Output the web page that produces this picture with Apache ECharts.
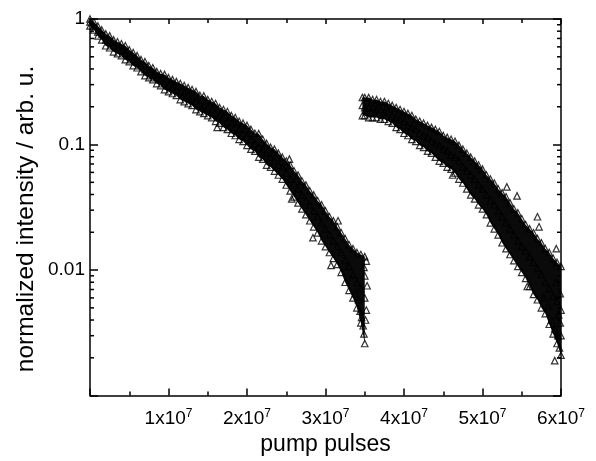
<!DOCTYPE html>
<html>
<head>
<meta charset="utf-8">
<script src="https://cdn.jsdelivr.net/npm/echarts@6/dist/echarts.min.js"></script>
<style>
html, body { margin: 0; padding: 0; background: #fff; }
#main { width: 596px; height: 461px; }
</style>
</head>
<body>
<div id="main"></div>
<script>
// pump pulses in units of 1e7, intensity normalized
// first run: upper edge, middle and lower edge of the point cloud
var seg1X = [0, 0.05, 0.1, 0.15, 0.2, 0.25, 0.3, 0.35, 0.4, 0.45, 0.5, 0.55, 0.6, 0.65, 0.7, 0.75, 0.8, 0.85, 0.9, 0.95,
  1, 1.05, 1.1, 1.15, 1.2, 1.25, 1.3, 1.35, 1.4, 1.45, 1.5, 1.55, 1.6, 1.65, 1.7, 1.75, 1.8, 1.85, 1.9, 1.95,
  2, 2.05, 2.1, 2.15, 2.2, 2.25, 2.3, 2.35, 2.4, 2.45, 2.5, 2.55, 2.6, 2.65, 2.7, 2.75, 2.8, 2.85, 2.9, 2.95,
  3, 3.05, 3.1, 3.15, 3.2, 3.25, 3.3, 3.35, 3.4, 3.45, 3.5];
var seg1Hi = [1.0, 0.947, 0.88, 0.818, 0.761, 0.734, 0.682, 0.658, 0.634, 0.612, 0.568, 0.54, 0.51, 0.474, 0.457, 0.425, 0.409, 0.381, 0.367, 0.362,
  0.341, 0.329, 0.317, 0.306, 0.295, 0.284, 0.274, 0.264, 0.246, 0.244, 0.228, 0.22, 0.212, 0.197, 0.19, 0.183, 0.17, 0.164, 0.153, 0.148,
  0.142, 0.132, 0.123, 0.122, 0.11, 0.102, 0.095, 0.0918, 0.0853, 0.0793, 0.0738, 0.0686, 0.0615, 0.0572, 0.0512, 0.0476, 0.0427, 0.0397, 0.0356, 0.0331,
  0.0296, 0.0266, 0.0247, 0.0221, 0.0198, 0.0178, 0.0159, 0.0148, 0.0138, 0.0133, 0.0128];
var seg1Mid = [0.947, 0.88, 0.789, 0.761, 0.682, 0.658, 0.612, 0.59, 0.568, 0.529, 0.51, 0.474, 0.457, 0.425, 0.395, 0.381, 0.354, 0.341, 0.329, 0.306,
  0.295, 0.284, 0.274, 0.264, 0.255, 0.246, 0.237, 0.22, 0.212, 0.205, 0.197, 0.19, 0.177, 0.17, 0.164, 0.153, 0.148, 0.137, 0.132, 0.123,
  0.118, 0.11, 0.102, 0.095, 0.0918, 0.0853, 0.0793, 0.0738, 0.0686, 0.0661, 0.0593, 0.0531, 0.0494, 0.0443, 0.0397, 0.0356, 0.0331, 0.0296, 0.0266, 0.0238,
  0.0213, 0.0191, 0.0171, 0.0154, 0.0138, 0.0119, 0.0107, 0.0092, 0.008, 0.0071, 0.006];
var seg1Lo = [0.88, 0.818, 0.734, 0.682, 0.612, 0.59, 0.548, 0.529, 0.51, 0.474, 0.457, 0.425, 0.409, 0.381, 0.354, 0.341, 0.329, 0.306, 0.295, 0.274,
  0.264, 0.255, 0.246, 0.228, 0.22, 0.212, 0.205, 0.19, 0.183, 0.177, 0.17, 0.164, 0.153, 0.148, 0.137, 0.132, 0.123, 0.118, 0.11, 0.106,
  0.0985, 0.0918, 0.0885, 0.0793, 0.0765, 0.0686, 0.0661, 0.0615, 0.0572, 0.0531, 0.0476, 0.0427, 0.0383, 0.0343, 0.0307, 0.0276, 0.0247, 0.0221, 0.0198, 0.0171,
  0.0154, 0.0138, 0.0124, 0.0111, 0.0096, 0.008, 0.0069, 0.006, 0.005, 0.0038, 0.0026];

// second run, after the pause
var seg2X = [3.47, 3.5, 3.55, 3.6, 3.65, 3.7, 3.75, 3.8, 3.85, 3.9, 3.95, 4, 4.05, 4.1, 4.15, 4.2, 4.25, 4.3, 4.35, 4.4,
  4.45, 4.5, 4.55, 4.6, 4.65, 4.7, 4.75, 4.8, 4.85, 4.9, 4.95, 5, 5.05, 5.1, 5.15, 5.2, 5.25, 5.3, 5.35, 5.4,
  5.45, 5.5, 5.55, 5.6, 5.65, 5.7, 5.75, 5.8, 5.85, 5.9, 5.95, 6];
var seg2Hi = [0.237, 0.237, 0.237, 0.228, 0.228, 0.22, 0.22, 0.212, 0.205, 0.197, 0.19, 0.183, 0.177, 0.17, 0.159, 0.153, 0.148, 0.142, 0.137, 0.132,
  0.127, 0.118, 0.114, 0.11, 0.106, 0.0985, 0.0918, 0.0853, 0.0793, 0.0738, 0.0686, 0.0637, 0.0572, 0.0531, 0.0494, 0.0443, 0.0412, 0.0383, 0.0343, 0.0307,
  0.0286, 0.0256, 0.023, 0.0213, 0.0198, 0.0178, 0.0165, 0.0148, 0.0138, 0.0124, 0.0115, 0.0107];
var seg2Mid = [0.205, 0.197, 0.197, 0.197, 0.19, 0.19, 0.183, 0.183, 0.17, 0.164, 0.159, 0.153, 0.142, 0.137, 0.132, 0.123, 0.118, 0.114, 0.106, 0.102,
  0.0985, 0.0918, 0.0885, 0.0823, 0.0793, 0.0738, 0.0661, 0.0615, 0.0572, 0.0531, 0.0476, 0.0443, 0.0397, 0.0356, 0.0331, 0.0296, 0.0266, 0.0238, 0.0213, 0.0191,
  0.0171, 0.0154, 0.0143, 0.0128, 0.0115, 0.0103, 0.0092, 0.008, 0.0071, 0.0062, 0.0056, 0.0048];
var seg2Lo = [0.17, 0.17, 0.164, 0.164, 0.164, 0.159, 0.159, 0.153, 0.148, 0.137, 0.132, 0.123, 0.118, 0.11, 0.106, 0.0985, 0.095, 0.0885, 0.0853, 0.0793,
  0.0738, 0.0711, 0.0661, 0.0637, 0.0593, 0.0531, 0.0494, 0.0443, 0.0397, 0.0369, 0.0331, 0.0307, 0.0276, 0.0238, 0.0213, 0.0191, 0.0165, 0.0148, 0.0133, 0.0119,
  0.0107, 0.0096, 0.0086, 0.0074, 0.0064, 0.0058, 0.005, 0.0045, 0.0037, 0.0031, 0.0026, 0.0021];

// stray points outside the band and in the noisy tails [x, y]
var strayPoints = [[1.62, 0.137], [2.54, 0.0765], [2.57, 0.0369], [2.84, 0.0181], [3.07, 0.0109], [3.16, 0.0247],
  [3.38, 0.0065], [3.42, 0.0058], [3.44, 0.0047], [3.46, 0.0042], [3.48, 0.0036], [3.49, 0.0031], [3.51, 0.004],
  [3.52, 0.0048], [3.5, 0.009], [3.53, 0.0075], [3.49, 0.0105], [3.52, 0.0118],
  [4.62, 0.0572], [5.31, 0.046], [5.44, 0.039], [5.7, 0.0266], [5.72, 0.0221], [5.94, 0.0148], [5.57, 0.0074],
  [5.92, 0.0019], [5.88, 0.004], [5.92, 0.0034], [5.96, 0.003], [5.98, 0.0024], [6, 0.003], [5.99, 0.0038],
  [5.97, 0.0044], [5.84, 0.0052], [5.78, 0.006], [5.94, 0.008], [5.99, 0.0065]];

var xTickMantissa = [1, 2, 3, 4, 5, 6];
var yTickExp = [0, -1, -2];
var yTickText = ['1', '0.1', '0.01'];
var yMinorTicks = [0.002, 0.003, 0.004, 0.005, 0.006, 0.007, 0.008, 0.009,
  0.02, 0.03, 0.04, 0.05, 0.06, 0.07, 0.08, 0.09,
  0.2, 0.3, 0.4, 0.5, 0.6, 0.7, 0.8, 0.9];

var font = "'Liberation Sans', Arial, sans-serif";
var axisColor = '#000';

function rows(xs, list) {
  var out = [];
  list.forEach(function (ys) {
    xs.forEach(function (x, i) { out.push([x, ys[i]]); });
  });
  return out;
}

// dense core of the cloud drawn as one filled shape between the edge rows
function bandRender(xs, his, los) {
  return function (params, api) {
    var top = [], bottom = [];
    for (var i = 0; i < xs.length; i++) {
      top.push(api.coord([xs[i], his[i]]));
      bottom.unshift(api.coord([xs[i], los[i]]));
    }
    return {
      type: 'polygon',
      shape: { points: top.concat(bottom) },
      style: { fill: '#0a0a0a' }
    };
  };
}

var tickStyle = { color: axisColor, width: 1.5 };

var myChart = echarts.init(document.getElementById('main'));
myChart.setOption({
  animation: false,
  backgroundColor: '#fff',
  grid: { left: 90, right: 35, top: 19, bottom: 63 },
  graphic: [{
    type: 'text', x: 39, y: 219, rotation: Math.PI / 2,
    style: {
      text: 'normalized intensity / arb. u.', fontSize: 24.5, fontFamily: font, fill: axisColor,
      align: 'center', verticalAlign: 'bottom'
    }
  }],
  xAxis: [
    {
      type: 'value', position: 'bottom', min: 0, max: 6, interval: 1,
      axisLine: { onZero: false, lineStyle: tickStyle },
      axisTick: { inside: true, length: 7, lineStyle: tickStyle },
      minorTick: { show: true, splitNumber: 2, length: 4, lineStyle: tickStyle },
      splitLine: { show: false },
      axisLabel: {
        margin: 12,
        formatter: function (v) {
          var k = xTickMantissa.indexOf(Math.round(v));
          return k < 0 ? '' : '{b|' + xTickMantissa[k] + 'x10}{s|7}';
        },
        rich: {
          b: { fontSize: 19, lineHeight: 22, fontFamily: font, color: axisColor },
          s: { fontSize: 12, lineHeight: 12, verticalAlign: 'top', fontFamily: font, color: axisColor }
        }
      },
      name: 'pump pulses', nameLocation: 'middle', nameGap: 34,
      nameTextStyle: { fontSize: 23, fontFamily: font, color: axisColor }
    },
    {
      type: 'value', position: 'top', min: 0, max: 6, interval: 1,
      axisLine: { onZero: false, lineStyle: tickStyle },
      axisTick: { inside: true, length: 5, lineStyle: tickStyle },
      minorTick: { show: true, splitNumber: 2, length: 4, lineStyle: tickStyle },
      splitLine: { show: false },
      axisLabel: { show: false }
    }
  ],
  yAxis: [
    {
      type: 'log', logBase: 10, position: 'left', min: 0.001, max: 1,
      axisLine: { onZero: false, lineStyle: tickStyle },
      axisTick: { inside: true, length: 8, lineStyle: tickStyle },
      splitLine: { show: false },
      axisLabel: {
        margin: 5, fontSize: 19, fontFamily: font, color: axisColor,
        formatter: function (v) {
          var k = yTickExp.indexOf(Math.round(Math.log10(v)));
          return k < 0 ? '' : yTickText[k];
        }
      }
    },
    {
      type: 'log', logBase: 10, position: 'right', min: 0.001, max: 1,
      axisLine: { onZero: false, lineStyle: tickStyle },
      axisTick: { inside: true, length: 8, lineStyle: tickStyle },
      splitLine: { show: false },
      axisLabel: { show: false }
    }
  ],
  series: [
    {
      type: 'custom', silent: true, z: 1,
      renderItem: bandRender(seg1X, seg1Hi, seg1Lo),
      data: [[seg1X[0], seg1Mid[0]]]
    },
    {
      type: 'custom', silent: true, z: 1,
      renderItem: bandRender(seg2X, seg2Hi, seg2Lo),
      data: [[seg2X[0], seg2Mid[0]]]
    },
    {
      type: 'scatter', z: 2, symbol: 'triangle', symbolSize: 6.5,
      itemStyle: { color: 'rgba(0,0,0,0)', borderColor: '#000', borderWidth: 1.2 },
      data: rows(seg1X, [seg1Hi, seg1Mid, seg1Lo]).concat(rows(seg2X, [seg2Hi, seg2Mid, seg2Lo])).concat(strayPoints)
    },
    {
      // log minor ticks at 2..9 of each decade, on both side axes
      type: 'custom', silent: true, z: 5,
      data: yMinorTicks.map(function (v) { return [0, v]; }),
      renderItem: function (params, api) {
        var v = api.value(1);
        var l = api.coord([0, v]);
        var r = api.coord([6, v]);
        return {
          type: 'group',
          children: [
            { type: 'line', shape: { x1: l[0], y1: l[1], x2: l[0] + 4, y2: l[1] }, style: { stroke: axisColor, lineWidth: 1.5 } },
            { type: 'line', shape: { x1: r[0], y1: r[1], x2: r[0] - 4, y2: r[1] }, style: { stroke: axisColor, lineWidth: 1.5 } }
          ]
        };
      }
    }
  ]
});
</script>
</body>
</html>
